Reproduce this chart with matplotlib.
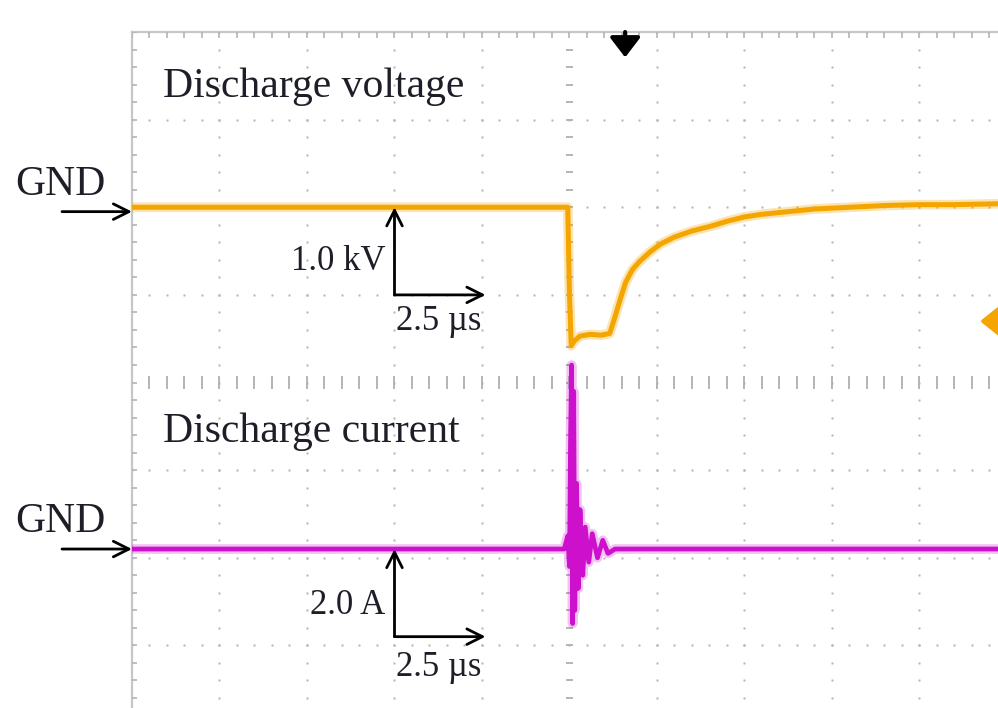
import numpy as np
import matplotlib.pyplot as plt

# oscilloscope screen: 10 div x 8 div, 2.5 us/div, centre at t = 0
# voltage channel: 1.0 kV/div, GND at +2.0 div
# current channel: 2.0 A/div, GND at -1.9 div
t_volt = [-12.5, -0.05, 0.0, 0.05, 0.15, 0.3, 0.6, 0.9, 1.15, 1.3, 1.45,
          1.6, 1.8, 2.0, 2.3, 2.6, 3.0, 3.5, 4.0, 4.5, 5.0, 5.5, 6.0, 7.0,
          8.0, 9.0, 10.0, 11.0, 12.3]
volt_kv = [0.0, 0.0, -1.0, -1.58, -1.52, -1.47, -1.45, -1.46, -1.44, -1.25,
           -1.05, -0.86, -0.71, -0.62, -0.51, -0.42, -0.34, -0.27, -0.22,
           -0.16, -0.11, -0.08, -0.06, -0.02, 0.0, 0.02, 0.03, 0.03, 0.04]

t_curr = [-12.5, -0.15, -0.05, 0.0, 0.03, 0.06, 0.09, 0.12, 0.15, 0.2, 0.25,
          0.3, 0.38, 0.45, 0.55, 0.65, 0.8, 0.95, 1.1, 1.3, 12.3]
curr_a = [0.0, 0.0, 0.3, -0.4, 2.5, 4.2, -1.7, 3.6, -1.4, 1.5, -0.9, 0.9,
          -0.6, 0.5, -0.3, 0.35, -0.2, 0.2, -0.1, 0.0, 0.0]

v_scale, v_offset = 1.0, 2.0
i_scale, i_offset = 2.0, -1.9

orange = '#f5a500'
magenta = '#cc10cc'
grid_c = '#b4b4b4'

plt.rcParams['font.family'] = ['Liberation Serif', 'DejaVu Serif']

fig = plt.figure(figsize=(9.98, 7.08), dpi=100)
ax = fig.add_axes([132 / 998, 0, 1 - 132 / 998, 676 / 708])
ax.set_xlim(-12.5, 12.243)
ax.set_ylim(-3.714, 4.0)
ax.axis('off')

# graticule
minor_t = np.arange(-12.5, 12.51, 0.5)
minor_d = np.arange(-4.0, 4.01, 0.2)
for tv in np.arange(-10.0, 12.51, 2.5):
    if abs(tv) < 1e-9:
        continue
    ax.plot(np.full_like(minor_d, tv), minor_d, 's', ms=1.9, color=grid_c, mec='none')
for dv in range(-4, 4):
    if dv == 0:
        continue
    ax.plot(minor_t, np.full_like(minor_t, dv), 's', ms=1.9, color=grid_c, mec='none')
# centre axes with ticks
ax.vlines(minor_t, -0.07, 0.07, color=grid_c, lw=1.4)
ax.hlines(minor_d, -0.1, 0.1, color=grid_c, lw=1.4)
# border lines
ax.axhline(4.0, color='#c4c8cc', lw=1.6, clip_on=False)
ax.axvline(-12.5, color='#c4c8cc', lw=1.6, clip_on=False)
ax.vlines(minor_t, 3.93, 4.0, color=grid_c, lw=1.2)
ax.hlines(minor_d, -12.5, -12.35, color=grid_c, lw=1.2)

# traces
vd = np.array(volt_kv) / v_scale + v_offset
idv = np.array(curr_a) / i_scale + i_offset
ax.plot(t_volt, vd, color=orange, lw=7, alpha=0.3, solid_joinstyle='round')
ax.plot(t_volt, vd, color=orange, lw=3.6, solid_joinstyle='round')
ax.plot(t_curr, idv, color=magenta, lw=7, alpha=0.25, solid_joinstyle='round')
ax.plot(t_curr, idv, color=magenta, lw=3.4, solid_joinstyle='round')

txt_c = '#1e1e28'
arr = dict(arrowstyle='->', lw=2.0, color='k', mutation_scale=28, shrinkA=0, shrinkB=0)

# labels
ax.text(-11.61, 3.37, 'Discharge voltage', fontsize=30, color=txt_c, va='center', ha='left')
ax.text(-11.61, -0.56, 'Discharge current', fontsize=30, color=txt_c, va='center', ha='left')

# GND markers
for gnd in (v_offset - 0.05, i_offset):
    ax.annotate('', xy=(-12.5, gnd), xytext=(-14.5, gnd), arrowprops=arr,
                annotation_clip=False)
ax.text(-14.55, 2.26, 'GND', fontsize=30, color=txt_c, va='center', ha='center', clip_on=False)
ax.text(-14.55, -1.59, 'GND', fontsize=30, color=txt_c, va='center', ha='center', clip_on=False)

# scale bars
for base, top, lab, lab_y, us_y in ((1.0, v_offset, '1.0 kV', 1.38, 0.70),
                                     (-2.9, i_offset, '2.0 A', -2.54, -3.25)):
    ax.annotate('', xy=(-5.0, top), xytext=(-5.0, base), arrowprops=arr)
    ax.annotate('', xy=(-2.4, base), xytext=(-5.0, base), arrowprops=arr)
    ax.text(-5.27, lab_y, lab, fontsize=25, color=txt_c, va='center', ha='right')
    ax.text(-4.96, us_y, '2.5 µs', fontsize=25, color=txt_c, va='center', ha='left')

# trigger position marker
ax.annotate('', xy=(1.59, 3.71), xytext=(1.59, 4.0),
            arrowprops=dict(arrowstyle='-|>,head_width=0.42,head_length=0.55', lw=3.0,
                            color='k', mutation_scale=22, shrinkA=0, shrinkB=0),
            annotation_clip=False)
# trigger level marker
ax.annotate('', xy=(11.73, 0.70), xytext=(12.6, 0.70),
            arrowprops=dict(arrowstyle='-|>,head_width=0.4,head_length=0.5', lw=3,
                            color=orange, mutation_scale=22, shrinkA=0, shrinkB=0),
            annotation_clip=False)

fig.savefig('out.png', dpi=100)
